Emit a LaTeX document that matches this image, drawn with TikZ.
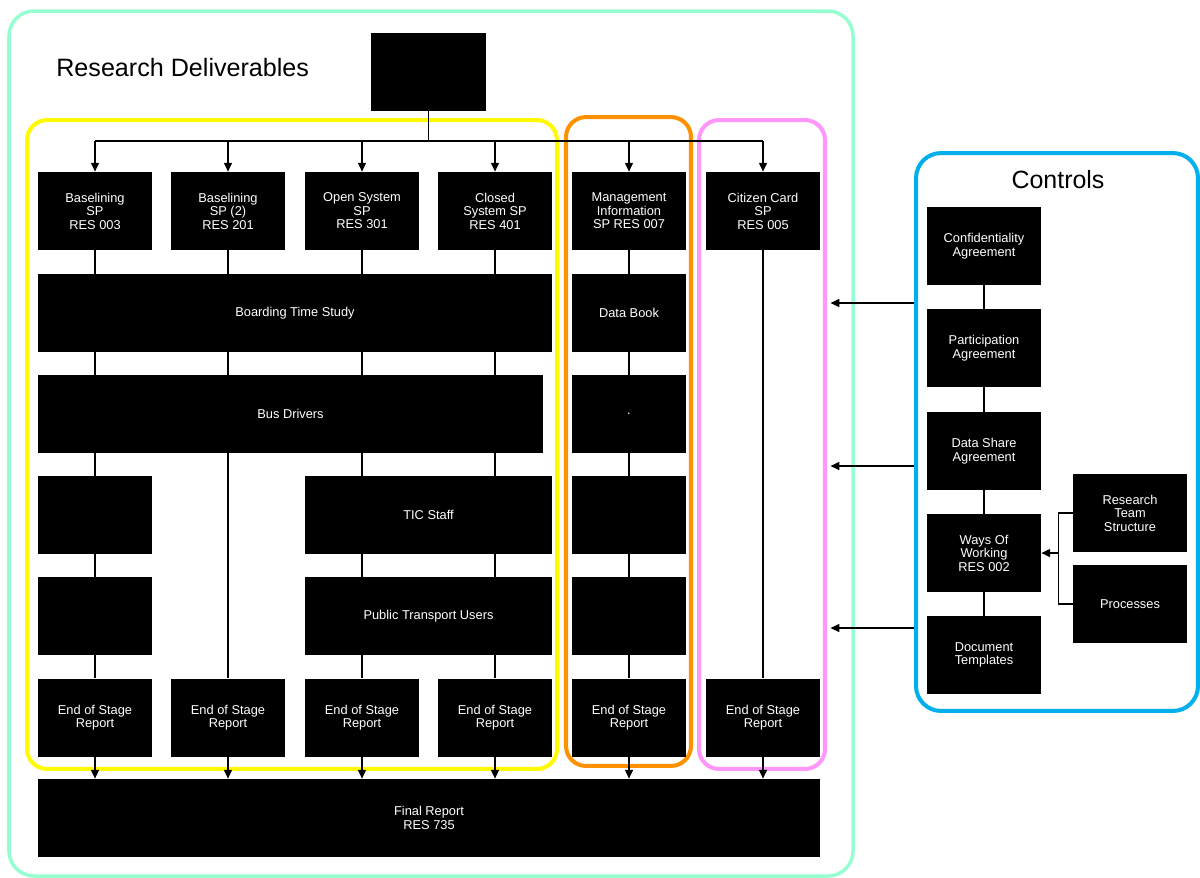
\documentclass[tikz,border=0pt]{standalone}
\usepackage{fontspec}
\setmainfont{Liberation Sans}
\usetikzlibrary{arrows.meta,positioning,backgrounds}
\definecolor{grpGreen}{RGB}{150,255,210}
\definecolor{grpYellow}{RGB}{255,250,0}
\definecolor{grpOrange}{RGB}{255,145,0}
\definecolor{grpPink}{RGB}{255,150,250}
\definecolor{grpBlue}{RGB}{0,175,235}

\begin{document}
\begin{tikzpicture}[x=0.02cm, y=-0.02cm,
  blk/.style={fill=black, text=white, inner sep=0pt, align=center,
    minimum width=2.28cm, minimum height=1.56cm,
    font=\fontsize{7.3}{7.7}\selectfont},
  grp/.style={line width=2.3pt, rounded corners=0.4cm, inner sep=0pt},
  link/.style={line width=0.8pt},
  arr/.style={link, -{Triangle[length=5pt,width=4.5pt]}}]
  \useasboundingbox (0,0) rectangle (1200,877);
  % group frames
  \draw[grpGreen, line width=2pt, rounded corners=0.5cm] (9,11) rectangle (853,876);
  \node[grp, draw=grpYellow, minimum width=10.6cm, minimum height=12.98cm] (resGrp) at (292,444.5) {};
  \node[grp, draw=grpOrange, minimum width=2.5cm, minimum height=12.98cm] (misGrp) at (628.5,441.5) {};
  \node[grp, draw=grpPink, minimum width=2.52cm, minimum height=12.98cm] (cardGrp) at (762,444.5) {};
  \node[grp, draw=grpBlue, rounded corners=0.5cm, minimum width=5.64cm, minimum height=11.16cm] (ctlGrp) at (1057,432) {};
  \node[font=\fontsize{14.3}{16}\selectfont, anchor=west, inner sep=0pt] (resTitle) at (56,68) {Research Deliverables};
  \node[font=\fontsize{14.2}{16}\selectfont] (ctlTitle) at (1058,180) {Controls};

  % deliverables
  \node[blk, minimum width=2.3cm] (top) at (428.5,72) {};
  \node[blk] (sp1) at (95,211) {Baselining\\SP\\RES 003};
  \node[blk] (sp2) at (228,211) {Baselining\\SP (2)\\RES 201};
  \node[blk] (sp3) at (362,211) {Open System\\SP\\RES 301};
  \node[blk] (sp4) at (495,211) {Closed\\System SP\\RES 401};
  \node[blk] (sp5) at (629,211) {Management\\Information\\SP RES 007};
  \node[blk] (sp6) at (763,211) {Citizen Card\\SP\\RES 005};
  \node[blk, minimum width=10.28cm] (board) at (295,313) {Boarding Time Study};
  \node[blk] (dataBook) at (629,313) {Data Book};
  \node[blk, minimum width=10.1cm] (drivers) at (290.5,414) {Bus Drivers};
  \node[blk] (misA) at (629,414) {.};
  \node[blk] (baseA) at (95,515) {};
  \node[blk, minimum width=4.94cm] (tic) at (428.5,515) {TIC Staff};
  \node[blk] (misB) at (629,515) {};
  \node[blk] (baseB) at (95,616) {};
  \node[blk, minimum width=4.94cm] (ptUsers) at (428.5,616) {Public Transport Users};
  \node[blk] (misC) at (629,616) {};
  \foreach \x/\n in {95/1,228/2,362/3,495/4,629/5,763/6}
    \node[blk] (eos\n) at (\x,717.5) {End of Stage\\Report};
  \node[blk, minimum width=15.64cm] (final) at (429,818) {Final Report\\RES 735};

  % connectors
  \draw[link] (top.south) -- (top.south |- 0,141) coordinate (fork);
  \draw[link] (sp1 |- fork) -- (sp6 |- fork);
  \foreach \n in {1,...,6} {
    \draw[arr] (sp\n |- fork) -- (sp\n.north);
    \draw[arr] (eos\n.south) -- (eos\n.south |- final.north);
  }
  \begin{scope}[on background layer]
    \foreach \n in {1,...,6} \draw[link] (sp\n) -- (eos\n);
  \end{scope}

  % controls
  \node[blk] (conf) at (984,246) {Confidentiality\\Agreement};
  \node[blk] (part) at (984,348) {Participation\\Agreement};
  \node[blk] (share) at (984,451) {Data Share\\Agreement};
  \node[blk] (ways) at (984,553) {Ways Of\\Working\\RES 002};
  \node[blk] (templ) at (984,655) {Document\\Templates};
  \node[blk] (team) at (1130,513) {Research\\Team\\Structure};
  \node[blk] (proc) at (1130,604) {Processes};
  \begin{scope}[on background layer]
    \draw[link] (conf) -- (templ);
  \end{scope}
  \draw[link] (team.west) -- ++(-14,0) coordinate (brk) |- (proc.west);
  \draw[arr] (brk |- ways.east) -- (ways.east);
  \foreach \y in {303,466,628}
    \draw[arr, shorten >=2pt] (ctlGrp.west |- 0,\y) -- (cardGrp.east |- 0,\y);
\end{tikzpicture}
\end{document}
